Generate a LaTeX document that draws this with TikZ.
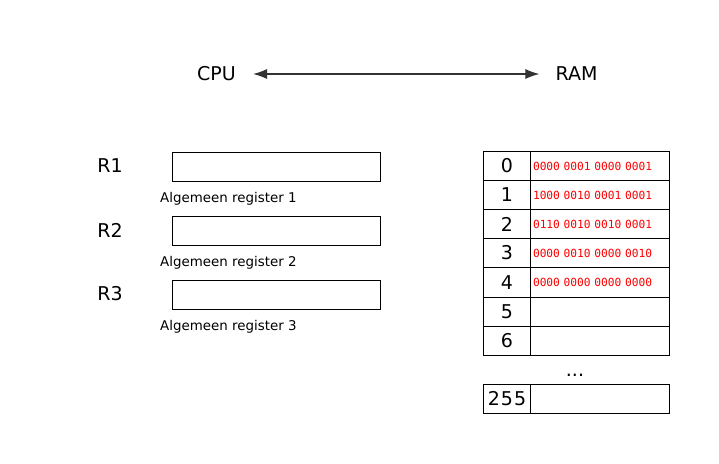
\documentclass[tikz,border=0pt]{standalone}
\usepackage{fontspec}
\setmainfont{DejaVu Sans}
\setmonofont{DejaVu Sans Mono}
\usetikzlibrary{arrows.meta}
\definecolor{bitred}{RGB}{255,0,0}
\begin{document}
\begin{tikzpicture}[x=1pt,y=-1pt,
  big/.style={font=\fontsize{19}{22}\selectfont, inner sep=0pt},
  small/.style={font=\fontsize{13.4}{16}\selectfont, inner sep=0pt, anchor=west},
  regbox/.style={draw, line width=1.2pt, minimum width=208pt, minimum height=29pt, anchor=north west, inner sep=0pt},
  addr/.style={draw, line width=1.2pt, outer sep=0pt, minimum width=47pt, minimum height=29pt, anchor=north west, inner sep=0pt, font=\fontsize{19}{22}\selectfont},
  cell/.style={draw, line width=1.2pt, outer sep=0pt, minimum width=139pt, minimum height=29pt, anchor=north west, inner sep=0pt, text width=134pt, align=left, font=\ttfamily\fontsize{11.2}{13}\selectfont, text=bitred},
]
\useasboundingbox (0,0) rectangle (719,463);
\node[big] (cpu) at (216.5,74) {CPU};
\node[big] (ram) at (576.5,74) {RAM};
\draw[{Latex[length=14pt,width=10pt]}-{Latex[length=14pt,width=10pt]}, line width=1.2pt, black!80,
  shorten <=17pt, shorten >=16pt] (cpu.east) -- (ram.west);

\node[big] (r1) at (110,166) {R1};
\node[big] (r2) at (110,230) {R2};
\node[big] (r3) at (110,294) {R3};
\node[regbox] (b1) at (172,152) {};
\node[regbox] (b2) at (172,216) {};
\node[regbox] (b3) at (172,280) {};
\node[small] (l1) at (160,199) {Algemeen register 1};
\node[small] (l2) at (160,263) {Algemeen register 2};
\node[small] (l3) at (160,327) {Algemeen register 3};

\node[addr] (a0) at (483.5,151.5) {0};
\node[addr] (a1) at (a0.south west) {1};
\node[addr] (a2) at (a1.south west) {2};
\node[addr] (a3) at (a2.south west) {3};
\node[addr, minimum height=30pt] (a4) at (a3.south west) {4};
\node[addr] (a5) at (a4.south west) {5};
\node[addr] (a6) at (a5.south west) {6};
\node[addr] (a255) at (483.5,384.5) {2\kern1pt5\kern1pt5};
\node[cell] (c0) at (a0.north east) {0000 0001 0000 0001};
\node[cell] (c1) at (a1.north east) {1000 0010 0001 0001};
\node[cell] (c2) at (a2.north east) {0110 0010 0010 0001};
\node[cell] (c3) at (a3.north east) {0000 0010 0000 0010};
\node[cell, minimum height=30pt] (c4) at (a4.north east) {0000 0000 0000 0000};
\node[cell] (c5) at (a5.north east) {};
\node[cell] (c6) at (a6.north east) {};
\node[cell] (c255) at (a255.north east) {};
\node[big] (dots) at (575,375) {...};
\end{tikzpicture}
\end{document}
